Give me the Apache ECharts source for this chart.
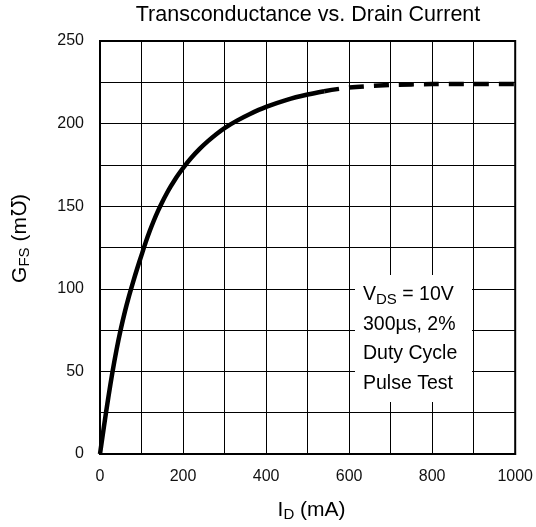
<!DOCTYPE html>
<html>
<head>
<meta charset="utf-8">
<script src="https://cdn.jsdelivr.net/npm/echarts@6/dist/echarts.min.js"></script>
<style>html,body{margin:0;padding:0;background:#fff}#c{width:536px;height:527px}</style>
</head>
<body>
<div id="c"></div>
<script>
// Data
var solidCurrent = [0, 10, 20, 30, 40, 50, 60, 70, 80, 90, 100, 110, 120, 130, 140, 150, 160, 170, 180, 190, 200,
                    220, 240, 260, 280, 300, 330, 360, 400, 450, 500, 540];
var solidGfs     = [0, 17.5, 34.1, 49.5, 63.3, 75.5, 86.2, 95.7, 104.4, 112.6, 120.4, 128.1, 135.1, 141.5, 147.3, 152.6, 157.4, 161.8, 165.9, 169.6, 173.1,
                    179.3, 184.7, 189.4, 193.6, 197.3, 201.8, 205.7, 210.1, 214.4, 217.6, 219.6];
var dashCurrent  = [540, 600, 700, 800, 900, 1000];
var dashGfs      = [219.6, 221.8, 223.4, 223.9, 224, 224];
var xTickLabels  = [0, 200, 400, 600, 800, 1000];
var yTickLabels  = [0, 50, 100, 150, 200, 250];
var noteLines    = ['{a|V}{s|DS}{a| = 10V}', '{a|300\u00b5s, 2%}', '{a|Duty Cycle}', '{a|Pulse Test}'];

function pairs(xs, ys) { return xs.map(function (x, i) { return [x, ys[i]]; }); }

var FONT = '"Liberation Sans", Arial, sans-serif';
var chart = echarts.init(document.getElementById('c'), null, { renderer: 'canvas' });
chart.setOption({
  backgroundColor: '#fff',
  animation: false,
  title: {
    text: 'Transconductance vs. Drain Current',
    left: 308, top: 4, textAlign: 'center', padding: 0,
    textStyle: { fontFamily: FONT, fontSize: 21.5, fontWeight: 'normal', color: '#000' }
  },
  grid: { left: 100, right: 18, top: 41, bottom: 71, show: true, borderColor: '#000', borderWidth: 2, backgroundColor: 'transparent' },
  xAxis: {
    type: 'value', min: 0, max: 1000, interval: 100,
    axisLine: { show: true, lineStyle: { color: '#000', width: 2 } },
    axisTick: { show: false },
    splitLine: { show: true, lineStyle: { color: '#000', width: 1 } },
    axisLabel: {
      fontFamily: FONT, fontSize: 16, color: '#111', margin: 15,
      formatter: function (v) { return xTickLabels.indexOf(v) >= 0 ? String(v) : ''; }
    },
    name: '{a|I}{s|D}{a| (mA)}', nameLocation: 'middle', nameGap: 44,
    nameTextStyle: {
      padding: [0, 0, 0, 8],
      rich: {
        a: { fontFamily: FONT, fontSize: 21, color: '#000' },
        s: { fontFamily: FONT, fontSize: 15, color: '#000', padding: [9, 0, 0, 0] }
      }
    }
  },
  yAxis: {
    type: 'value', min: 0, max: 250, interval: 25,
    axisLine: { show: true, lineStyle: { color: '#000', width: 2 } },
    axisTick: { show: false },
    splitLine: { show: true, lineStyle: { color: '#000', width: 1 } },
    axisLabel: {
      fontFamily: FONT, fontSize: 16, color: '#111', margin: 16,
      formatter: function (v) { return yTickLabels.indexOf(v) >= 0 ? String(v) : ''; }
    },
    name: '{a|G}{s|FS}{a| (m\u2127)}', nameLocation: 'middle', nameGap: 68, nameRotate: 90,
    nameTextStyle: {
      padding: [0, 0, 0, 18],
      rich: {
        a: { fontFamily: FONT, fontSize: 21, color: '#000' },
        s: { fontFamily: FONT, fontSize: 15, color: '#000', padding: [9, 0, 0, 0] }
      }
    }
  },
  series: [
    {
      type: 'line', data: pairs(solidCurrent, solidGfs), smooth: 0.3,
      showSymbol: false, lineStyle: { color: '#000', width: 4.5, cap: 'butt' }, z: 5
    },
    {
      type: 'line', data: pairs(dashCurrent, dashGfs), smooth: 0.3,
      showSymbol: false, lineStyle: { color: '#000', width: 4.5, type: [15, 10], cap: 'butt' }, z: 5
    }
  ],
  graphic: [
    {
      type: 'rect', left: 355, top: 275, z: 10,
      shape: { width: 117, height: 127 },
      style: { fill: '#fff', stroke: null }
    },
    {
      type: 'text', left: 363, top: 283, z: 11,
      style: {
        text: noteLines.join('\n'),
        rich: {
          a: { fontFamily: FONT, fontSize: 19.5, color: '#000', lineHeight: 29.5 },
          s: { fontFamily: FONT, fontSize: 15, color: '#000', lineHeight: 29.5, padding: [9, 0, 0, 0] }
        }
      }
    }
  ]
});
</script>
</body>
</html>
